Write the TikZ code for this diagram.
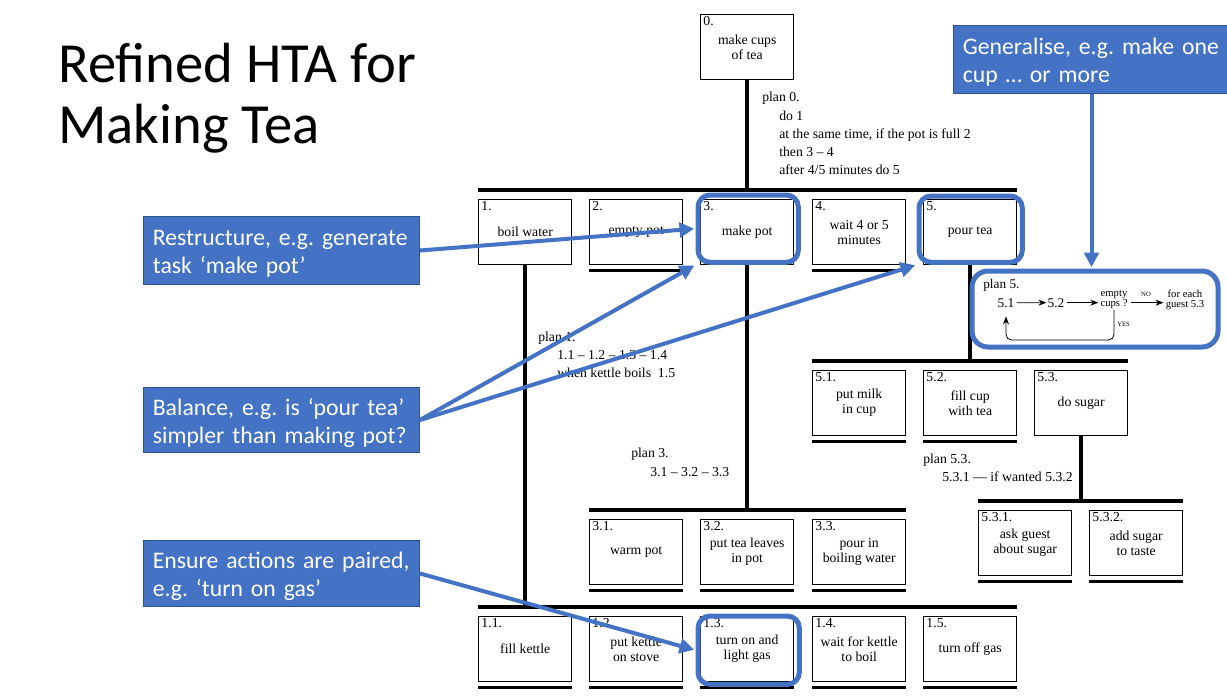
\documentclass[tikz,border=0pt]{standalone}
\usepackage{fontspec}
\setmainfont{Liberation Serif}
\newfontfamily\calib{Carlito}
\usetikzlibrary{calc,fit,arrows.meta}
\definecolor{hlblue}{HTML}{4472C4}
\definecolor{hledge}{HTML}{2F528F}
\frenchspacing

% one task box of the hierarchy: name, left x, top y, number, label
\newcommand\htabox[5]{%
  \node[taskbox] (#1) at (#2,#3) {#5};
  \node[num] (#1-n) at (#1.north west) {#4};}
% thick rule under a task that is not broken down further
\newcommand\htaleaf[1]{%
  \draw[leafline] ($(#1.south west)+(0,5)$) -- ($(#1.south east)+(0,5)$);}
% horizontal bar above a row of sub-tasks, from first to last box
\newcommand\htabar[2]{%
  \draw[bar] ($(#1.north west)+(0,-9)$) -- ($(#2.north east)+(0,-9)$);}
% taller first line of a comment box, to sit its text a little lower
\newcommand\calloutstrut{\rule{0pt}{16.8pt}}

\begin{document}
\begin{tikzpicture}[x=0.75pt,y=-0.75pt,
  taskbox/.style={draw, line width=1pt, minimum width=69.75pt, minimum height=48.75pt,
    inner sep=0pt, align=center, anchor=north west,
    font=\fontsize{10.3}{11.25}\selectfont},
  num/.style={anchor=north west, inner xsep=2.4pt, inner ysep=1.6pt, font=\fontsize{10.3}{11}\selectfont},
  bar/.style={line width=3pt},
  leafline/.style={line width=2.4pt},
  plantext/.style={anchor=base west, inner sep=0pt, font=\fontsize{10.3}{12}\selectfont},
  hlframe/.style={draw=hlblue, line width=3.75pt, rounded corners=9pt, inner sep=0pt},
  callout/.style={fill=hlblue, draw=hledge, line width=0.75pt, text=white,
    font=\calib\fontsize{17.8}{21}\selectfont, align=left, text width=193pt,
    inner xsep=7pt, inner ysep=0pt, anchor=north west},
  arrowblue/.style={draw=hlblue, line width=3pt, shorten >=1pt,
    -{Triangle[length=11pt,width=11pt]}},
  p5txt/.style={inner sep=0pt, font=\fontsize{10}{11}\selectfont},
  p5small/.style={inner sep=0pt, align=center, font=\fontsize{8}{7.5}\selectfont},
  p5tiny/.style={inner sep=0pt, font=\fontsize{5}{6}\selectfont},
  p5arrow/.style={line width=0.6pt, -{Stealth[length=6pt,width=4.5pt]}},
  titletext/.style={anchor=base west, inner sep=0pt, font=\calib\fontsize{42.5}{45}\selectfont}
]
\useasboundingbox (0,0) rectangle (1227,699);

% title
\node[titletext] (t1) at (58,83) {Refined HTA for};
\node[titletext] (t2) at (58,143) {Making Tea};

% top task
\htabox{b0}{700}{14}{0.}{make cups\\of tea}

% level 1
\htabox{b1}{478}{199}{1.}{boil water}
\htabox{b2}{589}{199}{2.}{empty pot}
\htabox{b3}{700}{199}{3.}{make pot}
\htabox{b4}{812}{199}{4.}{wait 4 or 5\\minutes}
\htabox{b5}{923}{199}{5.}{pour tea}
\htabar{b1}{b5}
\draw[bar] (b0.south) -- ($(b3.north)+(0,-9)$);
\htaleaf{b2} \htaleaf{b4}

% plan 0
\node[plantext] (p0a) at (762,101) {plan 0.};
\node[plantext] (p0b) at (779,120) {do 1};
\node[plantext] (p0c) at (779,138) {at the same time, if the pot is full 2};
\node[plantext] (p0d) at (779,156) {then 3 – 4};
\node[plantext] (p0e) at (779,174) {after 4/5 minutes do 5};

% sub-tasks of 3
\htabox{b31}{589}{519}{3.1.}{warm pot}
\htabox{b32}{700}{519}{3.2.}{put tea leaves\\in pot}
\htabox{b33}{812}{519}{3.3.}{pour in\\boiling water}
\htabar{b31}{b33}
\draw[bar] (b3.south) -- ($(b32.north)+(0,-9)$);
\htaleaf{b31} \htaleaf{b32} \htaleaf{b33}
\node[plantext] (p3a) at (631,457) {plan 3.};
\node[plantext] (p3b) at (650,476) {3.1 – 3.2 – 3.3};

% sub-tasks of 1
\htabox{b11}{478}{616}{1.1.}{fill kettle}
\htabox{b12}{589}{616}{1.2.}{put kettle\\on stove}
\htabox{b13}{700}{616}{1.3.}{turn on and\\light gas}
\htabox{b14}{812}{616}{1.4.}{wait for kettle\\to boil}
\htabox{b15}{923}{616}{1.5.}{turn off gas}
\htabar{b11}{b15}
\draw[bar] (b1.south) -- ($(b11.north -| b1.south)+(0,-9)$);
\htaleaf{b11} \htaleaf{b12} \htaleaf{b13} \htaleaf{b14} \htaleaf{b15}
\node[plantext] (p1a) at (538,341) {plan 1.};
\node[plantext] (p1b) at (557,359) {1.1 – 1.2 – 1.3 – 1.4};
\node[plantext] (p1c) at (557,377) {when kettle boils~~1.5};

% sub-tasks of 5
\htabox{b51}{812}{370}{5.1.}{put milk\\in cup}
\htabox{b52}{923}{370}{5.2.}{fill cup\\with tea}
\htabox{b53}{1034}{370}{5.3.}{do sugar}
\htabar{b51}{b53}
\draw[bar] (b5.south) -- ($(b52.north -| b5.south)+(0,-9)$);
\htaleaf{b51} \htaleaf{b52}

% sub-tasks of 5.3
\htabox{b531}{978}{510}{5.3.1.}{ask guest\\about sugar}
\htabox{b532}{1089}{510}{5.3.2.}{add sugar\\to taste}
\htabar{b531}{b532}
\draw[bar] (b53.south) -- ($(b531.north -| b53.south)+(0,-9)$);
\htaleaf{b531} \htaleaf{b532}
\node[plantext] (p53a) at (923,463) {plan 5.3.};
\node[plantext] (p53b) at (942,481) {5.3.1 — if wanted 5.3.2};

% plan 5 flow
\node[p5txt, anchor=base west] (p5t) at (983,288) {plan 5.};
\node[p5txt, anchor=base] (s51) at (1006,307) {5.1};
\node[p5txt, anchor=base] (s52) at (1056,307) {5.2};
\node[p5small] (sq) at (1114,299.5) {empty\\cups ?};
\node[p5small] (sf) at (1185,299.5) {for each\\guest 5.3};
\node[p5tiny, anchor=base] (sno) at (1146,296) {NO};
\node[p5tiny, anchor=base west] (syes) at (1117,326) {YES};
\draw[p5arrow] ($(s51.east)+(2,0)$) -- ($(s52.west)+(-1,0)$);
\draw[p5arrow] ($(s52.east)+(2,0)$) -- ($(sq.west |- s52.east)+(-2,0)$);
\draw[p5arrow] ($(sq.east |- s52.east)+(3,0)$) -- ($(sf.west |- s52.east)+(-2,0)$);
\draw[p5arrow, rounded corners=4pt] ($(sq.south)+(0,1)$) -- ++(0,30) -| ($(s51.south)+(0,9)$);

% highlight frames
\coordinate (h3a) at ($(b3.north west)+(-2,-4)$);
\coordinate (h3b) at ($(b3.south east)+(4,-3)$);
\node[hlframe, fit=(h3a)(h3b)] (hl3) {};
\coordinate (h5a) at ($(b5.north west)+(-4,-3)$);
\coordinate (h5b) at ($(b5.south east)+(5,-3)$);
\node[hlframe, fit=(h5a)(h5b)] (hl5) {};
\coordinate (h13a) at ($(b13.north west)+(-2,0)$);
\coordinate (h13b) at ($(b13.south east)+(5,2)$);
\node[hlframe, fit=(h13a)(h13b)] (hl13) {};
\coordinate (p5a) at (972,271);
\coordinate (p5b) at (1218,347);
\node[hlframe, rounded corners=12pt, fit=(p5a)(p5b)] (p5) {};

% comment boxes
\node[callout, minimum height=51pt] (gen) at (953,25) {\calloutstrut Generalise, e.g. make one\\cup … or more};
\node[callout, minimum height=51pt] (rs) at (143,216) {\calloutstrut Restructure, e.g. generate\\task ‘make pot’};
\node[callout, minimum height=48.75pt] (bal) at (143,387) {\calloutstrut Balance, e.g. is ‘pour tea’\\simpler than making pot?};
\node[callout, minimum height=49.5pt] (ens) at (143,540) {\calloutstrut Ensure actions are paired,\\e.g. ‘turn on gas’};

% comment arrows
\draw[arrowblue] (gen.south) -- (gen.south |- p5.north);
\draw[arrowblue] (rs.east) -- (hl3.west);
\draw[arrowblue] (bal.east) -- (hl3.south west);
\draw[arrowblue] (bal.east) -- (hl5.south west);
\draw[arrowblue] (ens.east) -- (hl13.west);
\end{tikzpicture}
\end{document}
